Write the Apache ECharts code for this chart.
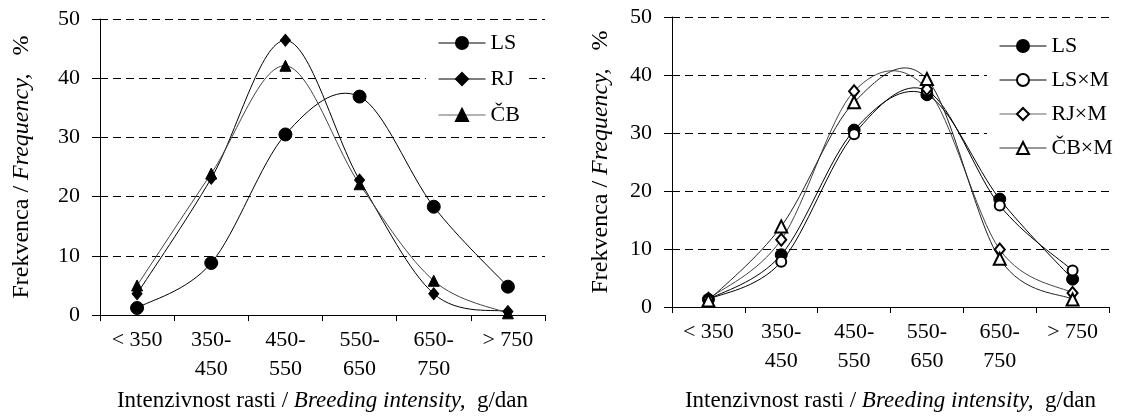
<!DOCTYPE html>
<html>
<head>
<meta charset="utf-8">
<script src="https://cdn.jsdelivr.net/npm/echarts@6/dist/echarts.min.js"></script>
<style>
html,body{margin:0;padding:0;background:#fff;}
#c{width:1122px;height:417px;}
</style>
</head>
<body>
<div id="c"></div>
<script>
var categories = ['< 350', '350-\n450', '450-\n550', '550-\n650', '650-\n750', '> 750'];
// left chart
var LS = [1.2, 8.8, 30.5, 36.9, 18.3, 4.8];
var RJ = [3.6, 23.1, 46.4, 22.8, 3.6, 0.6];
var CB = [5.0, 23.9, 42.1, 22.1, 5.8, 0.3];
// right chart
var LS2 = [1.3, 9.0, 30.5, 36.6, 18.6, 4.8];
var LSxM = [1.3, 7.8, 29.8, 37.3, 17.5, 6.3];
var RJxM = [1.4, 11.6, 37.2, 37.6, 9.9, 2.4];
var CBxM = [1.1, 13.9, 35.3, 39.3, 8.3, 1.3];

var FONT = "'Liberation Serif','Times New Roman',serif";
var chart = echarts.init(document.getElementById('c'), null, {renderer: 'canvas'});

function xAxis(idx, gap) {
  return {
    type: 'category', gridIndex: idx, data: categories, boundaryGap: true,
    axisLine: {lineStyle: {color: '#000', width: 1}},
    axisTick: {show: true, length: 6, lineStyle: {color: '#000'}},
    axisLabel: {color: '#000', fontFamily: FONT, fontSize: 22, lineHeight: 29, margin: 11, interval: 0},
    name: '{n|Intenzivnost rasti / }{i|Breeding intensity,}{n|  g/dan}',
    nameLocation: 'middle', nameGap: gap,
    nameTextStyle: {
      rich: {
        n: {fontFamily: FONT, fontSize: 23, color: '#000'},
        i: {fontFamily: FONT, fontSize: 23, color: '#000', fontStyle: 'italic'}
      }
    }
  };
}
function yAxis(idx, gap) {
  return {
    type: 'value', gridIndex: idx, min: 0, max: 50, interval: 10,
    axisLine: {show: true, lineStyle: {color: '#000', width: 1}},
    axisTick: {show: true, length: 8, lineStyle: {color: '#000'}},
    axisLabel: {color: '#000', fontFamily: FONT, fontSize: 22, margin: 20},
    splitLine: {show: true, lineStyle: {color: '#000', width: 1, type: [8, 5]}},
    name: '{n|Frekvenca / }{i|Frequency,}{n|   %}',
    nameLocation: 'middle', nameGap: gap,
    nameTextStyle: {
      rich: {
        n: {fontFamily: FONT, fontSize: 24, color: '#000'},
        i: {fontFamily: FONT, fontSize: 24, color: '#000', fontStyle: 'italic'}
      }
    }
  };
}
// marker series (line hidden; curve drawn by custom series below)
function marks(name, data, idx, symbol, size) {
  return {
    name: name, type: 'line', xAxisIndex: idx, yAxisIndex: idx, data: data, z: 5,
    symbol: symbol, symbolSize: size, showSymbol: true,
    lineStyle: {color: '#000', width: 1, opacity: 0},
    itemStyle: {color: '#000', borderColor: '#000', borderWidth: 1},
    emphasis: {disabled: true}
  };
}
// smooth curve through the data points (Excel-like Catmull-Rom bezier)
function curve(name, data, idx, color) {
  return {
    name: '_' + name, type: 'custom', coordinateSystem: 'cartesian2d',
    xAxisIndex: idx, yAxisIndex: idx, z: 2, silent: true,
    data: data.map(function (v, i) { return [i, v]; }),
    encode: {x: 0, y: 1},
    renderItem: function (params, api) {
      var i = params.dataIndexInside;
      var n = params.dataInsideLength;
      if (i >= n - 1) return null;
      function p(k) {
        k = Math.max(0, Math.min(n - 1, k));
        return api.coord([api.value(0, k), api.value(1, k)]);
      }
      var p0 = p(i - 1), p1 = p(i), p2 = p(i + 1), p3 = p(i + 2);
      return {
        type: 'bezierCurve',
        shape: {
          x1: p1[0], y1: p1[1], x2: p2[0], y2: p2[1],
          cpx1: p1[0] + (p2[0] - p0[0]) / 6, cpy1: p1[1] + (p2[1] - p0[1]) / 6,
          cpx2: p2[0] - (p3[0] - p1[0]) / 6, cpy2: p2[1] - (p3[1] - p1[1]) / 6
        },
        style: {stroke: color, lineWidth: 1, fill: null}
      };
    }
  };
}
function legendItem(name, color) {
  return {name: name, lineStyle: {color: color, width: 1, opacity: 1}};
}
var legendText = {fontFamily: FONT, fontSize: 22, color: '#000', lineHeight: 22};

chart.setOption({
  animation: false,
  backgroundColor: '#fff',
  grid: [
    {left: 100, right: 577, top: 19, bottom: 95},
    {left: 672, right: 13, top: 17, bottom: 105}
  ],
  xAxis: [xAxis(0, 72), xAxis(1, 82)],
  yAxis: [yAxis(0, 66), yAxis(1, 59)],
  legend: [
    {
      data: [legendItem('LS', '#000'), legendItem('RJ', '#000'), legendItem('ČB', '#666')],
      orient: 'vertical', left: 426, top: 26,
      itemWidth: 47, itemHeight: 15, itemGap: 14, padding: [6, 6, 6, 12],
      backgroundColor: '#fff', selectedMode: false, textStyle: legendText
    },
    {
      data: [legendItem('LS ', '#000'), legendItem('LS×M', '#000'), legendItem('RJ×M', '#666'), legendItem('ČB×M', '#333')],
      orient: 'vertical', left: 987, top: 29,
      itemWidth: 47, itemHeight: 15, itemGap: 12, padding: [6, 6, 6, 12],
      backgroundColor: '#fff', selectedMode: false, textStyle: legendText
    }
  ],
  series: [
    curve('LS', LS, 0, '#000'),
    curve('RJ', RJ, 0, '#000'),
    curve('ČB', CB, 0, '#444'),
    curve('LS2', LS2, 1, '#000'),
    curve('LSxM', LSxM, 1, '#000'),
    curve('RJxM', RJxM, 1, '#444'),
    curve('CBxM', CBxM, 1, '#222'),
    marks('LS', LS, 0, 'circle', 13),
    marks('RJ', RJ, 0, 'diamond', [10, 12]),
    marks('ČB', CB, 0, 'triangle', 11),
    marks('LS ', LS2, 1, 'circle', 12),
    marks('LS×M', LSxM, 1, 'emptyCircle', 10),
    marks('RJ×M', RJxM, 1, 'emptyDiamond', [10, 12]),
    marks('ČB×M', CBxM, 1, 'emptyTriangle', 12)
  ]
});
</script>
</body>
</html>
